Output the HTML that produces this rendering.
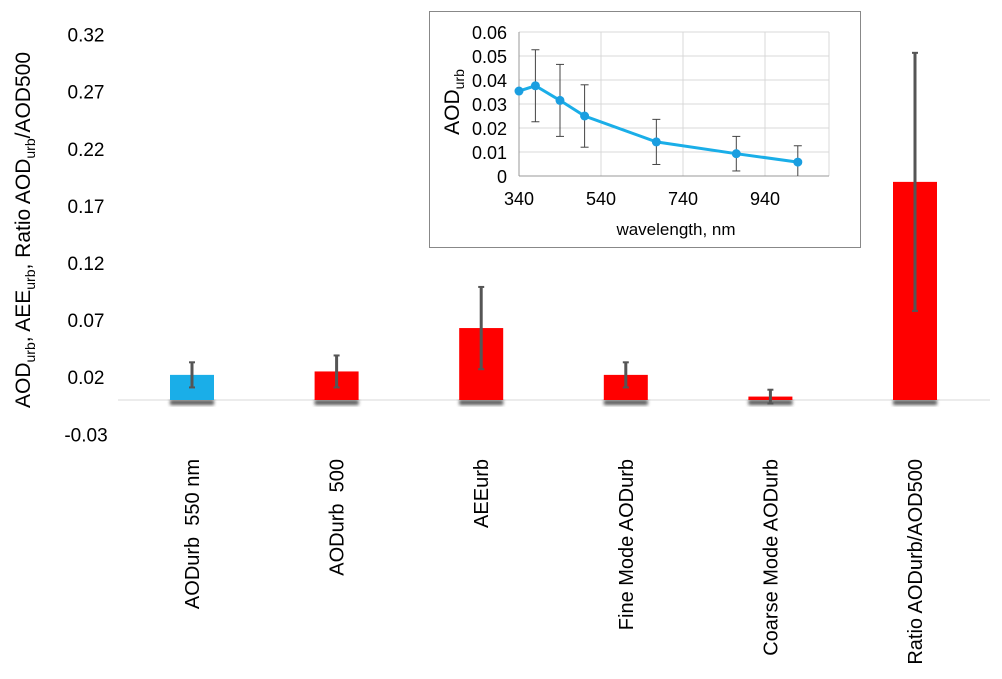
<!DOCTYPE html>
<html><head><meta charset="utf-8"><style>
body{margin:0;background:#fff;width:1002px;height:674px;overflow:hidden;font-family:"Liberation Sans",Arial,sans-serif}
text{white-space:pre}
</style></head><body>
<svg id="c" width="1002" height="674" xmlns="http://www.w3.org/2000/svg" font-family="Liberation Sans, Arial, sans-serif">
<defs><filter id="sh" x="-20%" y="-20%" width="140%" height="160%"><feGaussianBlur stdDeviation="1.5"/></filter></defs>
</svg>
<script>
const categories=["AODurb  550 nm","AODurb  500","AEEurb","Fine Mode AODurb","Coarse Mode AODurb","Ratio AODurb/AOD500"];
const values=[0.022,0.025,0.063,0.022,0.003,0.191];
const errors=[0.011,0.014,0.036,0.011,0.006,0.113];
const colors=["#1aaee8","#ff0000","#ff0000","#ff0000","#ff0000","#ff0000"];
const yTicks=[-0.03,0.02,0.07,0.12,0.17,0.22,0.27,0.32];
const wl=[340,380,440,500,675,870,1020];
const aod=[0.0354,0.0376,0.0315,0.025,0.0142,0.0093,0.0058];
const aodErr=[0,0.015,0.015,0.013,0.0094,0.0072,0.0068];
const inYTicks=[0,0.01,0.02,0.03,0.04,0.05,0.06];
const inXTicks=[340,540,740,940];

const svg=document.getElementById('c');
const NS="http://www.w3.org/2000/svg";
function mk(t,a,p){const e=document.createElementNS(NS,t);for(const k in a)e.setAttribute(k,a[k]);(p||svg).appendChild(e);return e;}
const y=v=>400-v*1142;
const x=i=>192+i*144.6;
const zl=mk('line',{x1:118,x2:990,y1:400,y2:400,stroke:'#d9d9d9','stroke-width':1});


yTicks.forEach(t=>{const e=mk('text',{x:86,y:y(t)+7,'font-size':19,'text-anchor':'middle',fill:'#000'});e.textContent=t.toFixed(2);

});
const yt=mk('text',{transform:'translate(30,230) rotate(-90)','font-size':21,'text-anchor':'middle'});
yt.innerHTML='AOD<tspan font-size="14" dy="5">urb</tspan><tspan dy="-5">, AEE</tspan><tspan font-size="14" dy="5">urb</tspan><tspan dy="-5">, Ratio AOD</tspan><tspan font-size="14" dy="5">urb</tspan><tspan dy="-5">/AOD500</tspan>';


categories.forEach((c,i)=>{
 const cx=x(i),w=44;
 const s=mk('rect',{x:cx-w/2,y:400,width:w,height:5,fill:'#333',filter:'url(#sh)',opacity:0.8});
 
 
 const top=Math.min(y(values[i]),400),h=Math.abs(y(values[i])-400);
 const b=mk('rect',{x:cx-w/2,y:top,width:w,height:Math.max(h,1),fill:colors[i]});
 
 
 const e=mk('line',{x1:cx,x2:cx,y1:y(values[i]+errors[i]),y2:y(values[i]-errors[i]),stroke:'#555','stroke-width':3});
 
 
 [values[i]+errors[i],values[i]-errors[i]].forEach(v=>{const cp=mk('line',{x1:cx-3,x2:cx+3,y1:y(v),y2:y(v),stroke:'#555','stroke-width':2});
 
 });
 const t=mk('text',{transform:`translate(${cx+7},459) rotate(-90)`,'font-size':20,'text-anchor':'end'});t.textContent=c;
 
 
});
const g=mk('g',{});


mk('rect',{x:429.5,y:11.5,width:431,height:236,fill:'#fff',stroke:'#888','stroke-width':1},g);
const ix=v=>519+(v-340)*0.41,iy=v=>176-v*2400;
inYTicks.forEach(t=>{mk('line',{x1:519,x2:829,y1:iy(t),y2:iy(t),stroke:'#d9d9d9'},g);
 const e=mk('text',{x:507,y:iy(t)+7,'font-size':18,'text-anchor':'end'},g);e.textContent=t===0?'0':t.toFixed(2);
 
 });
inXTicks.forEach(t=>{mk('line',{x1:ix(t),x2:ix(t),y1:32,y2:176,stroke:'#d9d9d9'},g);
 const e=mk('text',{x:ix(t),y:205,'font-size':18,'text-anchor':'middle'},g);e.textContent=t;
 
 });
mk('line',{x1:829,x2:829,y1:32,y2:176,stroke:'#d9d9d9'},g);
mk('line',{x1:519,x2:519,y1:32,y2:176,stroke:'#999'},g);
mk('line',{x1:519,x2:829,y1:176,y2:176,stroke:'#999'},g);
const xt=mk('text',{x:676,y:235,'font-size':17,'text-anchor':'middle'},g);xt.textContent='wavelength, nm';


const iyt=mk('text',{transform:'translate(459,102) rotate(-90)','font-size':21,'text-anchor':'middle'},g);
iyt.innerHTML='AOD<tspan font-size="14" dy="5">urb</tspan>';


wl.forEach((w,i)=>{if(aodErr[i]>0){mk('line',{x1:ix(w),x2:ix(w),y1:iy(aod[i]+aodErr[i]),y2:iy(Math.max(aod[i]-aodErr[i],0)),stroke:'#444'},g);
 [aod[i]+aodErr[i],aod[i]-aodErr[i]].forEach(v=>{if(v>0)mk('line',{x1:ix(w)-4,x2:ix(w)+4,y1:iy(v),y2:iy(v),stroke:'#444'},g);});}});
const ln=mk('polyline',{points:wl.map((w,i)=>ix(w)+','+iy(aod[i])).join(' '),fill:'none',stroke:'#1aaee8','stroke-width':3},g);


wl.forEach((w,i)=>{const p=mk('circle',{cx:ix(w),cy:iy(aod[i]),r:4.5,fill:'#1a9ee0'},g);
 
 });
</script>
</body></html>
